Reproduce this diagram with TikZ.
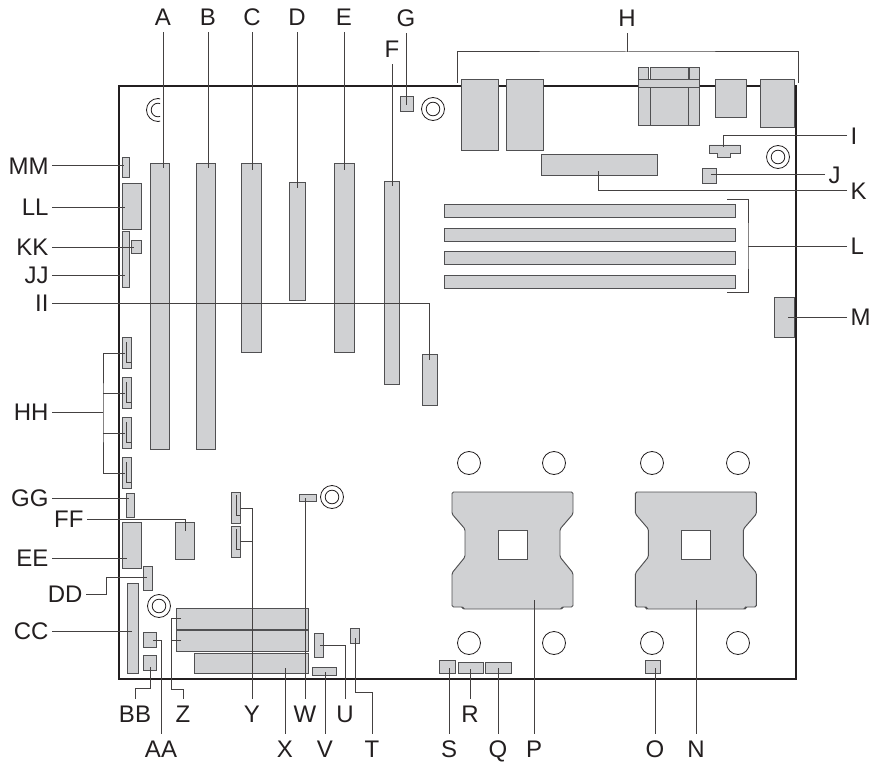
\documentclass[tikz,border=0pt]{standalone}
\usepackage{fontspec}
\setmainfont{Liberation Sans}
\definecolor{partgray}{RGB}{208,209,211}
\definecolor{partline}{RGB}{80,80,82}
\definecolor{boardline}{RGB}{35,31,32}
\tikzset{
  part/.style={draw=partline,fill=partgray,line width=0.95pt,inner sep=0pt,outer sep=0pt,anchor=north west},
  shapefill/.style={draw=partline,fill=partgray,line width=0.95pt},
  standoff/.style={draw=boardline,line width=0.8pt,fill=white},
  leader/.style={draw=boardline!85!white,line width=1pt},
  lbl/.style={font=\fontsize{24}{24}\selectfont,text=boardline,text height=16.5pt,text depth=0pt,inner xsep=3.5pt,inner ysep=7pt,outer sep=0pt},
  lblleft/.style={lbl,anchor=east},
  lblright/.style={lbl,anchor=west},
}
% part from its upper left corner to its lower right corner
\newcommand{\boardpart}[5]{\node[part,minimum width={#4-#2},minimum height={#5-#3}] (#1) at (#2,#3) {};}
\newcommand{\holering}[2]{\draw[standoff] (#1,#2) circle (11.5);}
\newcommand{\screwring}[2]{\draw[standoff] (#1,#2) circle (11.5); \draw[standoff] (#1,#2) circle (6.8);}
\begin{document}
\begin{tikzpicture}[x=1pt,y=1pt,yscale=-1]
\useasboundingbox (0,0) rectangle (876,765);

%Board outline
\draw[boardline,line width=2.6pt] (119,679) -- (119,86) -- (796,86) -- (796,679) -- cycle;

%Screw holes
\screwring{433}{109}
\screwring{778}{157}
\screwring{332}{497}
\screwring{159}{606}
\begin{scope}
  \clip (140,95) rectangle (160,125);
  \screwring{158}{110}
\end{scope}
\foreach \hx in {469,554,652,738} {
  \holering{\hx}{463}
  \holering{\hx}{643}
}

%Slots
\boardpart{pA}{150}{163}{169}{449}
\boardpart{pB}{196}{163}{215}{449}
\boardpart{pC}{241}{163}{261}{352}
\boardpart{pD}{289}{182}{305}{300}
\boardpart{pE}{334}{163}{354}{352}
\boardpart{pF}{384}{181}{399}{384}
\boardpart{pII}{422}{354}{437}{405}

%Back panel
\boardpart{pHa}{461}{79}{498}{150}
\boardpart{pHb}{506}{79}{543}{150}
\boardpart{pHc}{638}{67}{648}{79}
\boardpart{pHd}{650}{67}{688}{79}
\boardpart{pHe}{689}{67}{699}{79}
\boardpart{pHf}{638}{87}{650}{125}
\boardpart{pHg}{650}{87}{688}{125}
\boardpart{pHh}{688}{87}{699}{125}
\boardpart{pHi}{638}{79}{699}{87}
\boardpart{pHj}{715}{79}{746}{117}
\boardpart{pHk}{760}{79}{794}{127}

%Upper right
\boardpart{pG}{400}{96}{413}{111}
\boardpart{pK}{541}{154}{657}{175}
\draw[shapefill] (709,145) -- (740,145) -- (740,153) -- (730,153) -- (730,157) -- (717,157) -- (717,153) -- (709,153) -- cycle;
\boardpart{pJ}{702}{168}{716}{183}
\boardpart{pLa}{444}{204}{735}{217}
\boardpart{pLb}{444}{228}{735}{241}
\boardpart{pLc}{444}{251}{735}{264}
\boardpart{pLd}{444}{275}{735}{288}
\boardpart{pM}{774}{297}{794}{337}

%Left edge
\boardpart{pMM}{122}{157}{129}{177}
\boardpart{pLL}{122}{183}{141}{229}
\boardpart{pJJ}{122}{231}{129}{287}
\boardpart{pKK}{131}{240}{141}{253}
\boardpart{pHHa}{122}{337}{131}{368}
\boardpart{pHHb}{122}{377}{131}{408}
\boardpart{pHHc}{122}{417}{131}{448}
\boardpart{pHHd}{122}{457}{131}{488}
\boardpart{pGG}{126}{493}{134}{517}
\boardpart{pFF}{175}{522}{194}{559}
\boardpart{pEE}{122}{522}{141}{568}
\boardpart{pDD}{143}{566}{152}{590}
\boardpart{pCC}{127}{583}{138}{673}
\boardpart{pAA}{143}{632}{156}{647}
\boardpart{pBB}{143}{655}{156}{670}
\foreach \hy in {337,377,417,457} {
  \draw[leader] (126.5,\hy+5) -- (126.5,\hy+25) -- (131,\hy+25);
}

%Lower middle
\boardpart{pYa}{231}{492}{240}{523}
\boardpart{pYb}{231}{526}{240}{557}
\draw[leader] (236,495) -- (236,515) -- (240,515);
\draw[leader] (236,529) -- (236,549) -- (240,549);
\boardpart{pW}{299}{494}{316}{501}
\boardpart{pZa}{176}{608}{308}{629}
\boardpart{pZb}{176}{630}{308}{651}
\boardpart{pX}{194}{653}{308}{673}
\boardpart{pU}{314}{633}{323}{657}
\boardpart{pV}{312}{667}{336}{675}
\boardpart{pT}{350}{628}{359}{643}
\boardpart{pS}{439}{660}{455}{673}
\boardpart{pR}{458}{662}{483}{673}
\boardpart{pQ}{485}{662}{511}{673}
\boardpart{pO}{645}{660}{660}{673}

%Processor sockets
\foreach \sx in {0,183.4} {
  \draw[shapefill,rounded corners=1.5pt,xshift=\sx] (452,492) -- (573,492) -- (573,514) -- (560,529) -- (560,557) -- (573,573)
    -- (573,607) -- (562,607) -- (562,609) -- (463,609) -- (463,607) -- (452,607) -- (452,573) -- (465,557) -- (465,529) -- (452,514) -- cycle;
  \draw[draw=partline,fill=white,line width=0.95pt,xshift=\sx] (498,530) rectangle (527,559);
}

%End points of the leaders
\coordinate (eA) at (163,168);
\coordinate (eB) at (208,168);
\coordinate (eC) at (252,170);
\coordinate (eD) at (297,188);
\coordinate (eE) at (344,170);
\coordinate (eF) at (392,186);
\coordinate (eG) at (406,105);
\coordinate (eI) at (723,147);
\coordinate (eJ) at (711,175);
\coordinate (eK) at (598,171);
\coordinate (eM) at (788,317);
\coordinate (eN) at (696,600);
\coordinate (eO) at (655,668);
\coordinate (eP) at (534,600);
\coordinate (eQ) at (498,668);
\coordinate (eR) at (470,669);
\coordinate (eS) at (449,668);
\coordinate (eT) at (355,638);
\coordinate (eU) at (320,645);
\coordinate (eV) at (325,672);
\coordinate (eW) at (305,498);
\coordinate (eX) at (285,668);
\coordinate (eAA) at (153,640);
\coordinate (eBB) at (150,667);
\coordinate (eCC) at (132,631);
\coordinate (eDD) at (147,577);
\coordinate (eEE) at (127,558);
\coordinate (eFF) at (185,531);
\coordinate (eGG) at (129,498);
\coordinate (eJJ) at (125,275);
\coordinate (eKK) at (134,247);
\coordinate (eLL) at (125,207);
\coordinate (eMM) at (124,166);
\coordinate (eII) at (429,360);

% Text Node
\node[lbl] (lA) at (163,17) {A};
\node[lbl] (lB) at (208,17) {B};
\node[lbl] (lC) at (252,17) {C};
\node[lbl] (lD) at (297,17) {D};
\node[lbl] (lE) at (344,17) {E};
\node[lbl] (lF) at (392,49) {F};
\node[lbl] (lG) at (406,18) {G};
\node[lbl] (lH) at (627,18) {H};
\node[lblright] (lI) at (847,136) {I};
\node[lblright] (lJ) at (825,175) {J};
\node[lblright] (lK) at (847,191) {K};
\node[lblright] (lL) at (847,246) {L};
\node[lblright] (lM) at (847,317) {M};
\node[lbl] (lN) at (696,749) {N};
\node[lbl] (lO) at (655,749) {O};
\node[lbl] (lP) at (534,749) {P};
\node[lbl] (lQ) at (498,749) {Q};
\node[lbl] (lR) at (470,714) {R};
\node[lbl] (lS) at (449,749) {S};
\node[lbl] (lT) at (372,749) {T};
\node[lbl] (lU) at (345,714) {U};
\node[lbl] (lV) at (325,749) {V};
\node[lbl] (lW) at (305,714) {W};
\node[lbl] (lX) at (285,749) {X};
\node[lbl] (lY) at (252,714) {Y};
\node[lbl] (lZ) at (183,714) {Z};
\node[lbl] (lAA) at (161,749) {AA};
\node[lbl] (lBB) at (135,714) {BB};
\node[lblleft] (lCC) at (52,631) {CC};
\node[lblleft] (lDD) at (86,594) {DD};
\node[lblleft] (lEE) at (52,558) {EE};
\node[lblleft] (lFF) at (87,519) {FF};
\node[lblleft] (lGG) at (52,498) {GG};
\node[lblleft] (lHH) at (52,412) {HH};
\node[lblleft] (lII) at (52,303) {II};
\node[lblleft] (lJJ) at (52,275) {JJ};
\node[lblleft] (lKK) at (52,247) {KK};
\node[lblleft] (lLL) at (52,207) {LL};
\node[lblleft] (lMM) at (52,166) {MM};

%Leaders
\foreach \ln in {A,B,C,D,E,F,G} {
  \draw[leader] (l\ln.south) -- (e\ln);
}
\foreach \ln in {N,O,P,Q,R,S,V,W,X} {
  \draw[leader] (l\ln.north) -- (e\ln);
}
\foreach \ln in {CC,EE,GG,JJ,KK,LL,MM} {
  \draw[leader] (l\ln.east) -- (e\ln);
}
\draw[leader] (lJ.west) -- (eJ);
\draw[leader] (lM.west) -- (eM);
\draw[leader] (lI.west) -| (eI);
\draw[leader] (lK.west) -| (eK);
\draw[leader] (lII.east) -| (eII);
\draw[leader] (lFF.east) -| (eFF);
\draw[leader] (lU.north) |- (eU);
\draw[leader] (lT.north) -- (372,692) -- (355,692) -- (eT);
\draw[leader] (lDD.east) -- (106,594) -- (106,577) -- (eDD);
\draw[leader] (lBB.north) -- (135,688) -- (150,688) -- (eBB);
\draw[leader] (lAA.north) -- (161,640) -- (eAA);

%Brackets
\coordinate (eHl) at (457,83);
\coordinate (eHr) at (798,83);
\coordinate (eHm) at (627,52);
\draw[leader] (eHl) |- (eHm) -| (eHr);
\draw[leader] (lH.south) -- (eHm);
\coordinate (eLt) at (727,200);
\coordinate (eLb) at (727,292);
\coordinate (eLm) at (748,246);
\draw[leader] (eLt) -| (eLm) |- (eLb);
\draw[leader] (lL.west) -- (eLm);
\coordinate (eHHa) at (125,353);
\coordinate (eHHb) at (125,393);
\coordinate (eHHc) at (125,433);
\coordinate (eHHd) at (125,473);
\coordinate (eHHm) at (103,412);
\draw[leader] (eHHa) -| (eHHm) |- (eHHd);
\draw[leader] (eHHb) -- (103,393);
\draw[leader] (eHHc) -- (103,433);
\draw[leader] (lHH.east) -- (eHHm);
\coordinate (eYa) at (240,508);
\coordinate (eYb) at (240,541);
\draw[leader] (eYa) -| (lY.north);
\draw[leader] (eYb) -- (252,541);
\coordinate (eZa) at (181,618);
\coordinate (eZb) at (181,640);
\draw[leader] (eZa) -- (171,618) -- (171,689) -- (183,689) -- (lZ.north);
\draw[leader] (eZb) -- (171,640);

\end{tikzpicture}
\end{document}
